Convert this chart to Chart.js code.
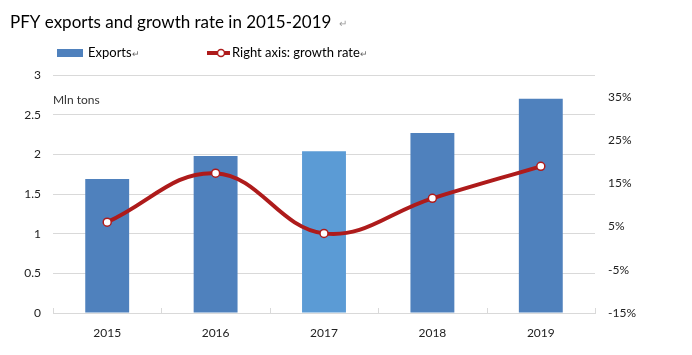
<!DOCTYPE html>
<html>
<head>
<meta charset="utf-8">
<script src="https://cdn.jsdelivr.net/npm/chart.js@4/dist/chart.umd.min.js"></script>
<style>
html,body{margin:0;padding:0;background:#fff;}
#wrap{width:692px;height:355px;position:relative;}
</style>
</head>
<body>
<div id="wrap"><canvas id="c" width="692" height="355"></canvas></div>
<script>
const titleText = 'PFY exports and growth rate in 2015-2019';
const categories = ['2015', '2016', '2017', '2018', '2019'];
const exportsValues = [1.69, 1.98, 2.04, 2.27, 2.70];
const growthValues = [6.0, 17.3, 3.4, 11.5, 18.9];
const leftTicks = [0, 0.5, 1, 1.5, 2, 2.5, 3];
const rightTicks = [-15, -5, 5, 15, 25, 35];
const barLabel = 'Exports';
const lineLabel = 'Right axis: growth rate';
const unitLabel = 'Mln tons';

const FONT = 'Lato, "Liberation Sans", sans-serif';
const barColors = ['#4F81BD', '#4F81BD', '#5B9BD5', '#4F81BD', '#4F81BD'];
const lineColor = '#AE1B1B';

const decor = {
  id: 'decor',
  afterDraw(chart) {
    const ctx = chart.ctx;
    const area = chart.chartArea;
    const xs = chart.scales.x;
    ctx.save();
    // title
    ctx.fillStyle = '#000';
    ctx.font = '17px ' + FONT;
    ctx.textBaseline = 'alphabetic';
    ctx.textAlign = 'left';
    ctx.fillText(titleText, 10, 28);
    let w = ctx.measureText(titleText).width;
    ctx.fillStyle = '#999';
    ctx.font = '10px ' + FONT;
    ctx.fillText('\u21B5', 10 + w + 8, 27);
    // legend
    ctx.font = '13px ' + FONT;
    ctx.textBaseline = 'middle';
    ctx.fillStyle = barColors[0];
    ctx.fillRect(57, 49, 26, 8);
    ctx.fillStyle = '#000';
    ctx.fillText(barLabel, 88, 53);
    w = ctx.measureText(barLabel).width;
    ctx.fillStyle = '#666';
    ctx.font = '9px ' + FONT;
    ctx.fillText('\u21B5', 88 + w, 54);
    ctx.strokeStyle = lineColor;
    ctx.lineWidth = 4;
    ctx.beginPath();
    ctx.moveTo(207, 53); ctx.lineTo(230, 53); ctx.stroke();
    ctx.beginPath();
    ctx.arc(221, 53, 3.5, 0, Math.PI * 2);
    ctx.fillStyle = '#fff'; ctx.fill();
    ctx.lineWidth = 1.5; ctx.stroke();
    ctx.font = '13px ' + FONT;
    ctx.fillStyle = '#000';
    ctx.fillText(lineLabel, 232, 53);
    w = ctx.measureText(lineLabel).width;
    ctx.fillStyle = '#666';
    ctx.font = '9px ' + FONT;
    ctx.fillText('\u21B5', 232 + w, 54);
    // unit label
    ctx.font = '12px ' + FONT;
    ctx.fillStyle = '#333';
    ctx.fillText(unitLabel, area.left, 100);
    // x tick marks between categories (inside)
    ctx.strokeStyle = '#D9D9D9';
    ctx.lineWidth = 1;
    const step = xs.getPixelForValue(1) - xs.getPixelForValue(0);
    for (let i = 0; i <= categories.length; i++) {
      const px = Math.round(xs.getPixelForValue(0) - step / 2 + i * step) + 0.5;
      ctx.beginPath();
      ctx.moveTo(px, area.bottom);
      ctx.lineTo(px, area.bottom - 5);
      ctx.stroke();
    }
    ctx.restore();
  }
};

new Chart(document.getElementById('c'), {
  type: 'bar',
  data: {
    labels: categories,
    datasets: [
      {
        type: 'line',
        label: lineLabel,
        data: growthValues,
        yAxisID: 'y1',
        borderColor: lineColor,
        borderWidth: 4,
        tension: 0.4,
        pointRadius: 4,
        pointBorderWidth: 1.5,
        pointBackgroundColor: '#fff',
        pointBorderColor: lineColor,
        order: 0
      },
      {
        type: 'bar',
        label: barLabel,
        data: exportsValues,
        yAxisID: 'y',
        backgroundColor: barColors,
        barPercentage: 0.405,
        categoryPercentage: 1,
        order: 1
      }
    ]
  },
  options: {
    responsive: false,
    animation: false,
    layout: { padding: { top: 75, left: 0, right: 0, bottom: 0 } },
    plugins: { legend: { display: false }, title: { display: false }, tooltip: { enabled: false } },
    scales: {
      x: {
        offset: true,
        grid: { display: false },
        border: { display: true, color: '#D9D9D9' },
        ticks: { color: '#222', font: { family: FONT, size: 12 }, padding: 5 },
        afterFit(s) { s.height = 42; }
      },
      y: {
        position: 'left',
        min: 0, max: 3,
        afterBuildTicks(ax) { ax.ticks = leftTicks.map(v => ({ value: v })); },
        grid: { color: '#D9D9D9', drawTicks: false },
        border: { display: false },
        ticks: { color: '#222', font: { family: FONT, size: 12 }, padding: 12, callback: v => String(v) },
        afterFit(s) { s.width = 53; }
      },
      y1: {
        position: 'right',
        min: -15, max: 40,
        afterBuildTicks(ax) { ax.ticks = rightTicks.map(v => ({ value: v })); },
        grid: { display: false, drawTicks: false },
        border: { display: false },
        ticks: { color: '#222', font: { family: FONT, size: 12 }, padding: 13, callback: v => v + '%' },
        afterFit(s) { s.width = 97; }
      }
    }
  },
  plugins: [decor]
});
</script>
</body>
</html>
